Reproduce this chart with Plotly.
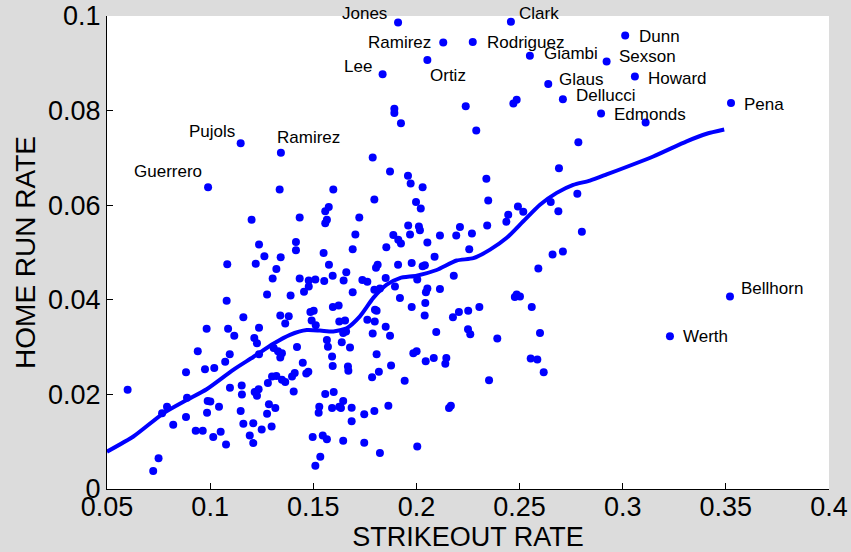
import plotly.graph_objects as go

# ---- data ----
strikeout_rate = [
    0.2486, 0.2470, 0.2239, 0.3111, 0.1893, 0.1893, 0.1925,
    0.1337, 0.1597, 0.1575, 0.1558, 0.1566, 0.1558, 0.1201, 0.1434, 0.1237, 0.1416, 0.1416,
    0.1263, 0.1342, 0.1550, 0.1083, 0.1221, 0.1321, 0.1576, 0.1303, 0.1434, 0.1478, 0.1510,
    0.1553, 0.1594, 0.1647, 0.1660, 0.1478, 0.1455, 0.1276, 0.1390, 0.1080,
    0.2290, 0.2785, 0.1788, 0.1872, 0.1959, 0.1972, 0.2030, 0.2339, 0.2691, 0.2780, 0.1796,
    0.1998, 0.2021, 0.2348, 0.2651, 0.2688, 0.1723, 0.2492, 0.2518, 0.2445, 0.2436, 0.2343,
    0.2802, 0.1704, 0.1960, 0.2012, 0.2017, 0.1969, 0.1888, 0.1912, 0.1925, 0.2114, 0.2193,
    0.2211, 0.2269, 0.2053, 0.1691, 0.1854, 0.2256, 0.2088, 0.2660, 0.2710, 0.1812, 0.1804,
    0.1911, 0.1977, 0.2030, 0.2041, 0.1851, 0.1738, 0.1762, 0.2004, 0.2181, 0.2591, 0.1691,
    0.1796, 0.1823, 0.1896, 0.2053, 0.2046, 0.2114, 0.1920, 0.2486, 0.2502, 0.2477,
    0.1977, 0.2043, 0.2040, 0.1799, 0.1807, 0.1762, 0.1798, 0.1851, 0.1872, 0.1788, 0.1654,
    0.1659, 0.1645, 0.1638, 0.1678, 0.1807, 0.2096, 0.2177, 0.2206, 0.2251, 0.2305, 0.2250,
    0.2261, 0.2392, 0.2559, 0.2599, 0.1985, 0.2001, 0.2045, 0.2084, 0.2145, 0.2140, 0.1668,
    0.1670, 0.1877, 0.1818, 0.1785, 0.1943, 0.2352, 0.2554, 0.2586, 0.2617, 0.1645, 0.1634,
    0.1686, 0.1686, 0.1747, 0.1796, 0.1864, 0.2158, 0.2167, 0.1645, 0.1747, 0.1823, 0.2004,
    0.1161, 0.0983, 0.1087, 0.1117, 0.1237, 0.1340, 0.1381, 0.1364, 0.1486, 0.1502, 0.1492,
    0.1512, 0.1595, 0.1623, 0.1626, 0.1214, 0.1227, 0.0940, 0.1095, 0.1073, 0.1237, 0.1308,
    0.1329, 0.1340, 0.1348, 0.1421, 0.1566, 0.1571, 0.1591, 0.1594, 0.0883, 0.0975, 0.1020,
    0.1449, 0.1466, 0.1476, 0.1300, 0.1321, 0.1348, 0.1364, 0.1397, 0.1410, 0.1280, 0.1405,
    0.0600, 0.1096, 0.1153, 0.1154, 0.1216, 0.1227, 0.1235, 0.0791, 0.0767, 0.0888, 0.0988,
    0.1001, 0.0985, 0.1043, 0.1148, 0.1285, 0.1316, 0.1276, 0.0821, 0.0883, 0.0930, 0.0964,
    0.1051, 0.1015, 0.1077, 0.1161, 0.1209, 0.1192, 0.1209, 0.1250, 0.1298, 0.0750, 0.0724,
    0.1497, 0.1546, 0.1566, 0.1534, 0.1510, 0.1558, 0.1599, 0.1529, 0.1526, 0.1591, 0.1626,
]
home_run_rate = [
    0.0823, 0.0815, 0.0809, 0.0775, 0.0804, 0.0795, 0.0773,
    0.0633, 0.0633, 0.0596, 0.0587, 0.0569, 0.0562, 0.0569, 0.0574, 0.0517, 0.0522, 0.0505,
    0.0492, 0.0490, 0.0499, 0.0475, 0.0476, 0.0465, 0.0474, 0.0445, 0.0445, 0.0441, 0.0443,
    0.0440, 0.0451, 0.0441, 0.0458, 0.0428, 0.0417, 0.0411, 0.0409, 0.0398,
    0.0758, 0.0733, 0.0701, 0.0671, 0.0662, 0.0646, 0.0638, 0.0656, 0.0678, 0.0624, 0.0612,
    0.0607, 0.0593, 0.0610, 0.0607, 0.0587, 0.0574, 0.0597, 0.0586, 0.0580, 0.0565, 0.0557,
    0.0544, 0.0538, 0.0557, 0.0555, 0.0547, 0.0538, 0.0537, 0.0527, 0.0519, 0.0536, 0.0536,
    0.0554, 0.0540, 0.0521, 0.0507, 0.0511, 0.0507, 0.0491, 0.0496, 0.0502, 0.0474, 0.0468,
    0.0474, 0.0478, 0.0471, 0.0473, 0.0446, 0.0442, 0.0438, 0.0443, 0.0451, 0.0466, 0.0416,
    0.0421, 0.0424, 0.0428, 0.0424, 0.0416, 0.0423, 0.0404, 0.0411, 0.0407, 0.0406,
    0.0385, 0.0393, 0.0367, 0.0379, 0.0377, 0.0358, 0.0354, 0.0343, 0.0324, 0.0329, 0.0356,
    0.0333, 0.0330, 0.0310, 0.0299, 0.0285, 0.0332, 0.0363, 0.0374, 0.0377, 0.0385, 0.0338,
    0.0327, 0.0318, 0.0385, 0.0330, 0.0287, 0.0291, 0.0270, 0.0277, 0.0277, 0.0265, 0.0259,
    0.0250, 0.0261, 0.0248, 0.0236, 0.0229, 0.0230, 0.0276, 0.0274, 0.0247, 0.0186, 0.0171,
    0.0172, 0.0143, 0.0158, 0.0165, 0.0176, 0.0171, 0.0176, 0.0102, 0.0098, 0.0076, 0.0090,
    0.0363, 0.0339, 0.0339, 0.0324, 0.0341, 0.0367, 0.0365, 0.0350, 0.0374, 0.0377, 0.0356,
    0.0346, 0.0385, 0.0388, 0.0354, 0.0319, 0.0308, 0.0291, 0.0285, 0.0269, 0.0285, 0.0298,
    0.0291, 0.0278, 0.0287, 0.0300, 0.0315, 0.0301, 0.0280, 0.0260, 0.0247, 0.0253, 0.0256,
    0.0267, 0.0244, 0.0248, 0.0238, 0.0239, 0.0231, 0.0226, 0.0238, 0.0245, 0.0224, 0.0206,
    0.0210, 0.0214, 0.0219, 0.0200, 0.0205, 0.0197, 0.0211, 0.0174, 0.0160, 0.0193, 0.0186,
    0.0185, 0.0161, 0.0174, 0.0165, 0.0179, 0.0171, 0.0159, 0.0136, 0.0152, 0.0123, 0.0123,
    0.0121, 0.0110, 0.0094, 0.0138, 0.0139, 0.0113, 0.0097, 0.0126, 0.0132, 0.0065, 0.0038,
    0.0110, 0.0113, 0.0105, 0.0068, 0.0049, 0.0201, 0.0205, 0.0174, 0.0161, 0.0171, 0.0174,
]

player_names = ["Jones", "Clark", "Ramirez", "Rodriguez", "Dunn", "Giambi", "Sexson", "Lee",
                "Ortiz", "Howard", "Glaus", "Dellucci", "Pena", "Edmonds", "Pujols", "Ramirez",
                "Guerrero", "Bellhorn", "Werth"]
player_so_rate = [0.1911, 0.2458, 0.2130, 0.2273, 0.3012, 0.2550, 0.2922, 0.1836, 0.2053, 0.3059,
                  0.2639, 0.2710, 0.3525, 0.2895, 0.1148, 0.1343, 0.0990, 0.3520, 0.3229]
player_hr_rate = [0.0986, 0.0988, 0.0944, 0.0945, 0.0959, 0.0916, 0.0904, 0.0877, 0.0907, 0.0872,
                  0.0856, 0.0824, 0.0816, 0.0794, 0.0731, 0.0711, 0.0638, 0.0407, 0.0323]

smooth_so_rate = [0.050, 0.0628, 0.0773, 0.0886, 0.0983, 0.1112, 0.1209, 0.1306, 0.1387, 0.1468,
                  0.1532, 0.1597, 0.1662, 0.1726, 0.1791, 0.1856, 0.1920, 0.2001, 0.2098, 0.2195,
                  0.2276, 0.2357, 0.2438, 0.2518, 0.2599, 0.2680, 0.2760, 0.2841, 0.2922, 0.3148,
                  0.3310, 0.3407, 0.3492]
smooth_hr_rate = [0.0079, 0.0111, 0.0160, 0.0188, 0.0211, 0.0252, 0.0279, 0.0307, 0.0326, 0.0336,
                  0.0335, 0.0333, 0.0340, 0.0365, 0.0404, 0.0432, 0.0446, 0.0451, 0.0463, 0.0483,
                  0.0488, 0.0506, 0.0531, 0.0566, 0.0601, 0.0626, 0.0643, 0.0652, 0.0665, 0.0703,
                  0.0735, 0.0751, 0.0760]

x_ticks = [0.05, 0.1, 0.15, 0.2, 0.25, 0.3, 0.35, 0.4]
x_tick_labels = ["0.05", "0.1", "0.15", "0.2", "0.25", "0.3", "0.35", "0.4"]
y_ticks = [0, 0.02, 0.04, 0.06, 0.08, 0.1]
y_tick_labels = ["0", "0.02", "0.04", "0.06", "0.08", "0.1"]

# ---- label placement (pixel offsets relative to the dot) ----
label_style = {
    "Jones": ("right", -9, 9), "Clark": ("left", 6, 8), "Ramirez#0": ("right", -10, 0),
    "Rodriguez": ("left", 12, 0), "Dunn": ("left", 12, -1), "Giambi": ("left", 12, 2),
    "Sexson": ("left", 10, 5), "Lee": ("right", -9, 8), "Ortiz": ("left", 1, -16),
    "Howard": ("left", 11, -2), "Glaus": ("left", 9, 5), "Dellucci": ("left", 11, 4),
    "Pena": ("left", 11, -1), "Edmonds": ("left", 11, -1), "Pujols": ("right", -4, 12),
    "Ramirez#1": ("left", -6, 15), "Guerrero": ("right", -4, 16), "Bellhorn": ("left", 9, 8),
    "Werth": ("left", 11, 0),
}

BLUE = "#0000ff"
FONT = "Liberation Sans, Arial, sans-serif"

fig = go.Figure()
fig.add_trace(go.Scatter(
    x=strikeout_rate, y=home_run_rate, mode="markers",
    marker=dict(color=BLUE, size=8, line=dict(width=0)),
    cliponaxis=False, showlegend=False, hoverinfo="skip"))
fig.add_trace(go.Scatter(
    x=player_so_rate, y=player_hr_rate, mode="markers",
    marker=dict(color=BLUE, size=8, line=dict(width=0)),
    cliponaxis=False, showlegend=False, text=player_names))
fig.add_trace(go.Scatter(
    x=smooth_so_rate, y=smooth_hr_rate, mode="lines",
    line=dict(color=BLUE, width=4, shape="spline", smoothing=0.6),
    showlegend=False, hoverinfo="skip"))

seen = {}
for name, xv, yv in zip(player_names, player_so_rate, player_hr_rate):
    key = name
    if name == "Ramirez":
        key = f"Ramirez#{seen.get(name, 0)}"
        seen[name] = seen.get(name, 0) + 1
    anchor, dx, dy = label_style[key]
    fig.add_annotation(x=xv, y=yv, text=name, showarrow=False,
                       xanchor=anchor, yanchor="middle", xshift=dx, yshift=dy,
                       font=dict(family=FONT, size=17, color="#000000"))

axis_common = dict(
    showgrid=False, zeroline=False, showline=True, linecolor="#000000", linewidth=1,
    ticks="inside", ticklen=6, tickcolor="#000000", tickwidth=1, mirror=False,
    automargin=False,
    tickfont=dict(family=FONT, size=27, color="#000000"),
)
fig.update_xaxes(range=[0.05, 0.4], tickvals=x_ticks, ticktext=x_tick_labels,
                 ticklabelstandoff=-6,
                 title=dict(text="STRIKEOUT RATE", font=dict(family=FONT, size=27, color="#000000"),
                            standoff=2),
                 **axis_common)
fig.update_yaxes(range=[0, 0.1], tickvals=y_ticks, ticktext=y_tick_labels,
                 title=dict(text="HOME RUN RATE", font=dict(family=FONT, size=28, color="#000000"),
                            standoff=4),
                 **axis_common)

fig.update_layout(
    width=851, height=552,
    margin=dict(l=107, r=22, t=16, b=63),
    paper_bgcolor="#dcdcdc", plot_bgcolor="#ffffff",
    font=dict(family=FONT, color="#000000"),
    showlegend=False,
)

fig.write_html("out.html")
